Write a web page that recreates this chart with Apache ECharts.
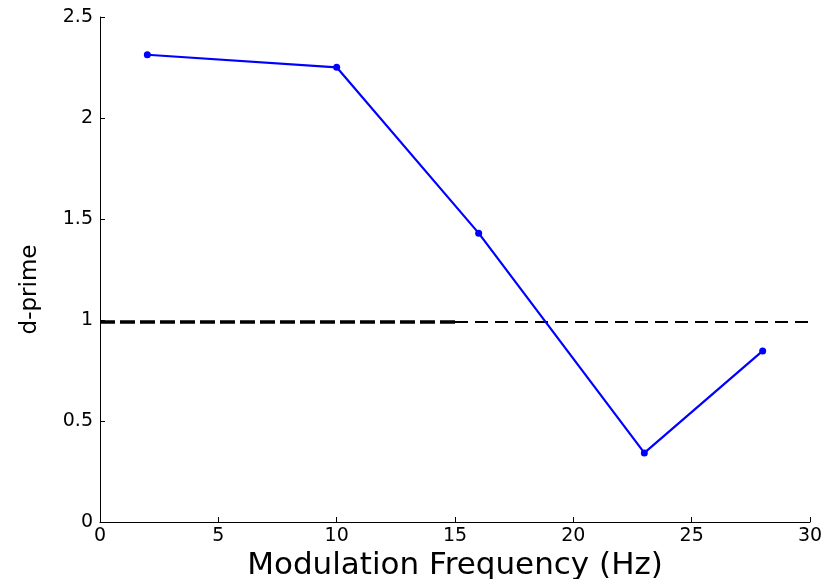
<!DOCTYPE html>
<html>
<head>
<meta charset="utf-8">
<script src="https://cdn.jsdelivr.net/npm/echarts@6/dist/echarts.min.js"></script>
<style>
    html, body { margin: 0; padding: 0; background: #fff; }
    #chart { width: 825px; height: 579px; }
</style>
</head>
<body>
<div id="chart"></div>
<script>
// 数据
var freqs = [2, 10, 16, 23, 28];
var dprime = [2.313, 2.251, 1.43, 0.342, 0.847];
var refLevel = 0.99;
var refThickX = [0, 15];
var refThinX = [15, 30];
var xTicks = [0, 5, 10, 15, 20, 25, 30];
var yTicks = [0, 0.5, 1, 1.5, 2, 2.5];

function pairs(xs, ys) {
    return xs.map(function (x, i) { return [x, ys[i]]; });
}

var labelFont = 'DejaVu Sans';
var myChart = echarts.init(document.getElementById('chart'));
var option = {
    animation: false,
    grid: { left: 100, right: 15, top: 17, bottom: 57, outerBoundsMode: 'none' },
    xAxis: {
        type: 'value',
        min: xTicks[0],
        max: xTicks[xTicks.length - 1],
        interval: 5,
        name: 'Modulation Frequency (Hz)',
        nameLocation: 'middle',
        nameGap: 21,
        nameTextStyle: { fontFamily: labelFont, fontSize: 31, color: '#000' },
        axisLine: { lineStyle: { color: '#000', width: 1 } },
        axisTick: { inside: true, length: 5, lineStyle: { color: '#000' } },
        axisLabel: { fontFamily: labelFont, fontSize: 19, color: '#000', margin: 5 },
        splitLine: { show: false }
    },
    yAxis: {
        type: 'value',
        min: yTicks[0],
        max: yTicks[yTicks.length - 1],
        interval: 0.5,
        name: 'd-prime',
        nameLocation: 'middle',
        nameGap: 58,
        nameTextStyle: { fontFamily: labelFont, fontSize: 23, color: '#000', padding: [0, 40, 0, 0] },
        axisLine: { show: true, lineStyle: { color: '#000', width: 1 } },
        axisTick: { show: true, inside: true, length: 5, lineStyle: { color: '#000' } },
        axisLabel: { fontFamily: labelFont, fontSize: 19, color: '#000', margin: 7 },
        splitLine: { show: false }
    },
    series: [
        {
            type: 'line',
            data: pairs(refThickX, [refLevel, refLevel]),
            symbol: 'none',
            lineStyle: { color: '#000', width: 3.5, type: [15, 5] },
            z: 2
        },
        {
            type: 'line',
            data: pairs(refThinX, [refLevel, refLevel]),
            symbol: 'none',
            lineStyle: { color: '#000', width: 1.8, type: [13, 7] },
            z: 2
        },
        {
            type: 'line',
            data: pairs(freqs, dprime),
            symbol: 'circle',
            symbolSize: 7,
            itemStyle: { color: '#0000ff' },
            lineStyle: { color: '#0000ff', width: 2.2 },
            z: 3
        }
    ]
};
myChart.setOption(option);
</script>
</body>
</html>
